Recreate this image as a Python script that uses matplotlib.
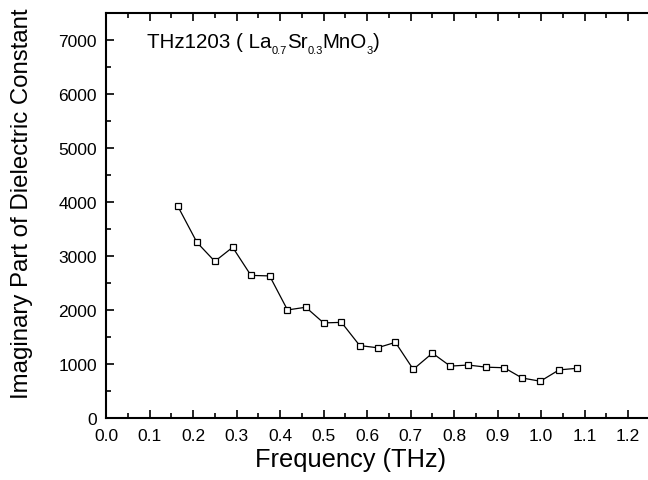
import matplotlib
matplotlib.use("Agg")
import matplotlib.pyplot as plt
from matplotlib.ticker import MultipleLocator

freq = [0.165, 0.209, 0.250, 0.291, 0.333, 0.376, 0.417, 0.459, 0.500, 0.541,
        0.583, 0.624, 0.665, 0.706, 0.750, 0.791, 0.832, 0.874, 0.915, 0.956,
        0.998, 1.041, 1.083]
eps_imag = [3920, 3250, 2900, 3160, 2640, 2630, 2000, 2050, 1760, 1770,
            1340, 1300, 1400, 900, 1200, 960, 980, 940, 930, 740,
            680, 890, 920]
x_ticks = [0.0, 0.1, 0.2, 0.3, 0.4, 0.5, 0.6, 0.7, 0.8, 0.9, 1.0, 1.1, 1.2]
y_ticks = [0, 1000, 2000, 3000, 4000, 5000, 6000, 7000]
title_parts = [("THz1203 ( La", False), ("0.7", True), ("Sr", False), ("0.3", True),
               ("MnO", False), ("3", True), (")", False)]

plt.rcParams['font.family'] = ['Liberation Sans', 'DejaVu Sans']

fig = plt.figure(figsize=(6.48, 4.81), dpi=100)
ax = fig.add_axes([0.1636, 0.129, 0.8395, 0.842])
ax.plot(freq, eps_imag, color='black', lw=0.9, marker='s', markersize=4.2,
        markerfacecolor='white', markeredgecolor='black', markeredgewidth=0.9)

ax.set_xlim(0, 1.25)
ax.set_ylim(0, 7500)
ax.set_xticks(x_ticks)
ax.set_xticklabels([f"{v:.1f}" for v in x_ticks])
ax.set_yticks(y_ticks)
ax.set_yticklabels([str(v) for v in y_ticks])
ax.xaxis.set_minor_locator(MultipleLocator(0.05))
ax.yaxis.set_minor_locator(MultipleLocator(500))
ax.tick_params(which='both', direction='in', top=True, right=False, labelsize=12.5, width=1.2)
ax.tick_params(which='major', length=6)
ax.tick_params(which='minor', length=3.5)
ax.tick_params(axis='x', which='major', pad=7)
ax.tick_params(axis='y', which='major', pad=6.5)
for s in ax.spines.values():
    s.set_linewidth(1.5)

ax.set_xlabel("Frequency (THz)", fontsize=18.3, va='center')
ax.set_ylabel("Imaginary Part of Dielectric Constant", fontsize=17.3, va='center')
ax.xaxis.set_label_coords(0.449, -0.101)
ax.yaxis.set_label_coords(-0.154, 0.531)

# Annotation with small, low subscripts (built piece by piece)
renderer = fig.canvas.get_renderer()
x_disp, y_disp = ax.transAxes.transform((0.0754, 0.916))
for txt, is_sub in title_parts:
    size = 8.0 if is_sub else 14.8
    dy = -4.5 if is_sub else 0.0
    t = fig.text(x_disp / fig.bbox.width, (y_disp + dy * fig.dpi / 72.0) / fig.bbox.height,
                 txt, fontsize=size, va='baseline', ha='left')
    bb = t.get_window_extent(renderer)
    x_disp = bb.x1

fig.savefig("out.png", dpi=100)
